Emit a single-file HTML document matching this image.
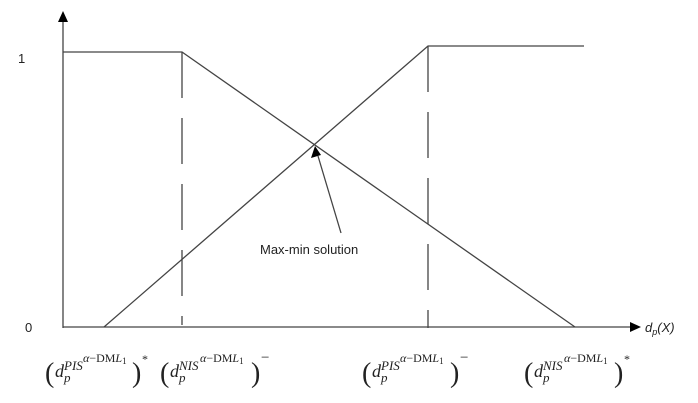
<!DOCTYPE html>
<html><head><style>
body{margin:0;background:#fff;width:698px;height:403px;overflow:hidden}
svg{display:block}
</style></head><body>
<svg width="698" height="403" viewBox="0 0 698 403" xmlns="http://www.w3.org/2000/svg">
<g stroke="#444" stroke-width="1.3" fill="none">
<line x1="63" y1="20" x2="63" y2="328"/>
<line x1="63" y1="327" x2="632" y2="327"/>
<polyline points="63,52 182,52 575,327"/>
<polyline points="104,327 428,46 584,46"/>
<line x1="182" y1="52" x2="182" y2="325" stroke-dasharray="46,20" />
<line x1="428" y1="46" x2="428" y2="328" stroke-dasharray="46,20"/>
<line x1="341" y1="233" x2="318" y2="156"/>
</g>
<polygon points="63,11 58,22 68,22" fill="#000"/>
<polygon points="641,327 630,322 630,332" fill="#000"/>
<polygon points="315,146 311,158 321,155" fill="#000"/>
<g font-family="Liberation Sans,sans-serif" font-size="13" fill="#222">
<text x="18" y="63">1</text>
<text x="25" y="332">0</text>
<text x="260" y="254">Max-min solution</text>
<text x="645" y="332" font-style="italic">d<tspan font-size="9" dy="3">p</tspan><tspan dy="-3">(X)</tspan></text>
</g>
<defs>
<g id="sup" font-size="12"><text x="0" y="0"><tspan font-style="italic">α</tspan>−DM<tspan font-style="italic">L</tspan><tspan font-size="9" dy="2">1</tspan></text></g>
</defs>
<g font-family="Liberation Serif,serif" fill="#222" font-size="18">
<g transform="translate(45,0)">
<text x="0" y="382" font-size="28">(</text><text x="10" y="377" font-style="italic">d</text>
<text x="19" y="382" font-size="13" font-style="italic">p</text>
<text x="19" y="370" font-size="13" font-style="italic">PIS</text>
<use href="#sup" x="38" y="362"/>
<text x="87" y="382" font-size="28">)</text><text x="97" y="363" font-size="12">*</text>
</g>
<g transform="translate(160,0)">
<text x="0" y="382" font-size="28">(</text><text x="10" y="377" font-style="italic">d</text>
<text x="19" y="382" font-size="13" font-style="italic">p</text>
<text x="19" y="370" font-size="13" font-style="italic">NIS</text>
<use href="#sup" x="40" y="362"/>
<text x="91" y="382" font-size="28">)</text><text x="101" y="362" font-size="15">−</text>
</g>
<g transform="translate(362,0)">
<text x="0" y="382" font-size="28">(</text><text x="10" y="377" font-style="italic">d</text>
<text x="19" y="382" font-size="13" font-style="italic">p</text>
<text x="19" y="370" font-size="13" font-style="italic">PIS</text>
<use href="#sup" x="38" y="362"/>
<text x="88" y="382" font-size="28">)</text><text x="98" y="362" font-size="15">−</text>
</g>
<g transform="translate(524,0)">
<text x="0" y="382" font-size="28">(</text><text x="10" y="377" font-style="italic">d</text>
<text x="19" y="382" font-size="13" font-style="italic">p</text>
<text x="19" y="370" font-size="13" font-style="italic">NIS</text>
<use href="#sup" x="40" y="362"/>
<text x="90" y="382" font-size="28">)</text><text x="100" y="363" font-size="12">*</text>
</g>
</g>
</svg>
</body></html>
